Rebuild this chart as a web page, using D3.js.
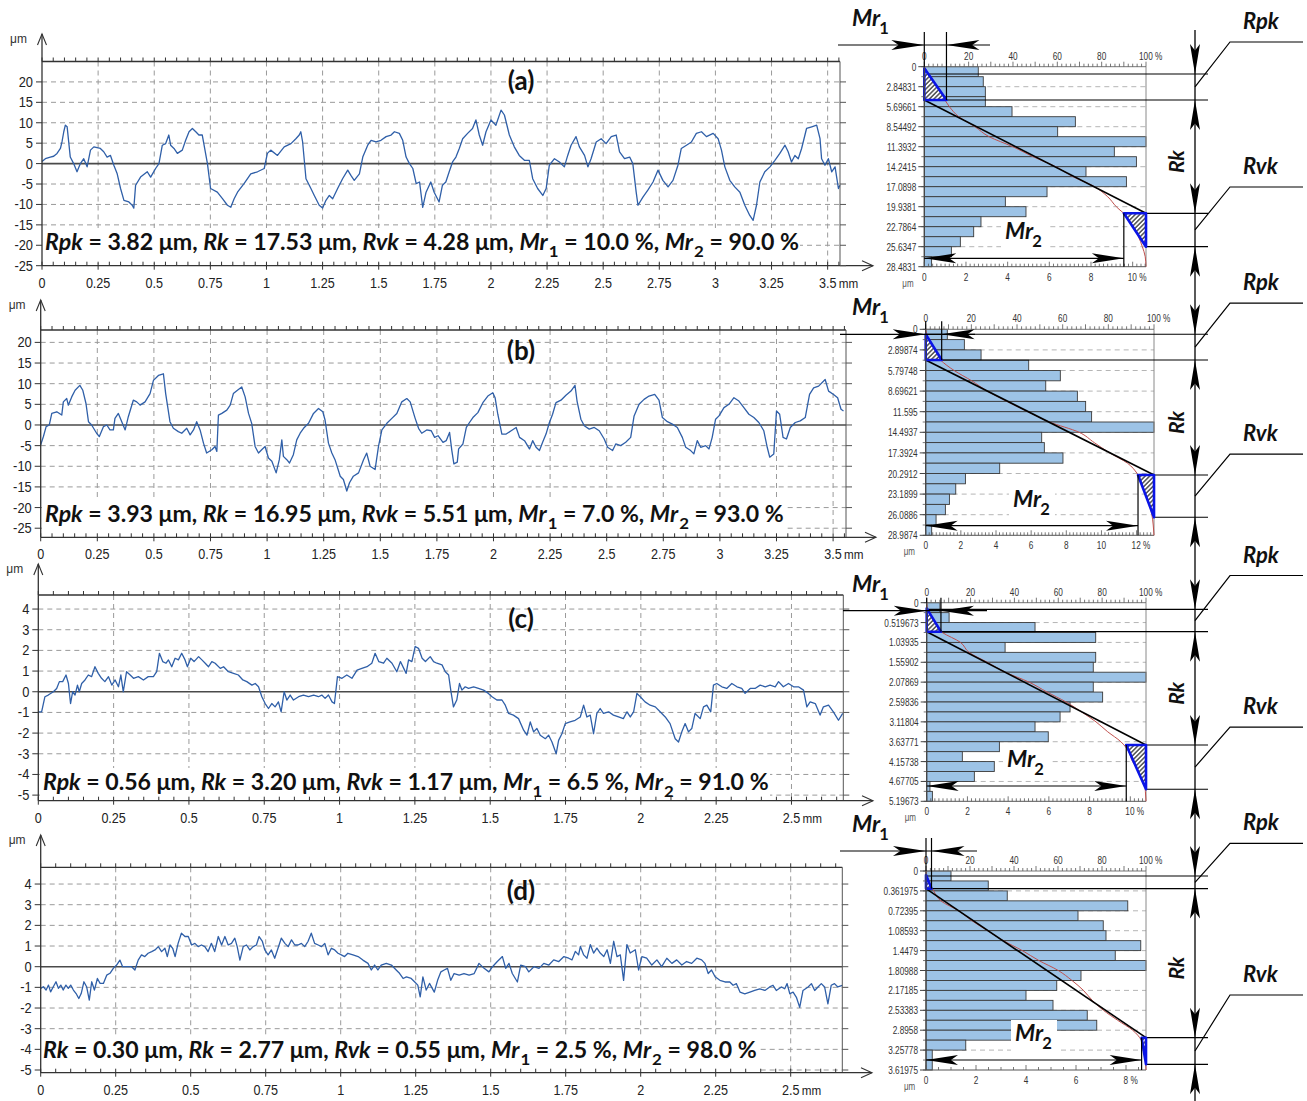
<!DOCTYPE html>
<html><head><meta charset="utf-8">
<script src="https://cdn.jsdelivr.net/npm/d3@7"></script>
<style>
html,body{margin:0;padding:0;background:#fff;}
svg{display:block;}
text{font-family:"Liberation Sans",Arial,sans-serif;white-space:pre;}
</style></head><body>
<svg id="chart" width="1307" height="1101"></svg>
<script>
// ---------- roughness profiles: [position mm, height μm] ----------
const profileA = [[0,0.5],[0.015,1.2],[0.037,1.6],[0.052,1.8],[0.067,2.5],[0.082,3.7],[0.089,5.3],[0.097,7.8],[0.104,9.4],[0.112,9.0],[0.119,5.3],[0.126,1.6],[0.141,0],[0.156,-2.0],[0.171,0],[0.186,1.2],[0.201,-0.8],[0.216,3.3],[0.231,4.1],[0.260,3.7],[0.275,2.9],[0.290,1.6],[0.305,2.0],[0.320,-0.4],[0.335,-2.5],[0.350,-6.1],[0.365,-9.0],[0.387,-9.4],[0.402,-10.2],[0.409,-10.9],[0.417,-5.3],[0.439,-3.3],[0.469,-2.0],[0.484,-3.3],[0.506,-1.2],[0.521,0],[0.536,4.5],[0.551,4.9],[0.565,7.0],[0.573,4.5],[0.588,3.7],[0.603,2.5],[0.625,3.3],[0.640,5.7],[0.655,7.8],[0.670,8.6],[0.685,7.8],[0.699,7.0],[0.714,7.0],[0.737,0],[0.751,-6.1],[0.781,-7.0],[0.804,-8.6],[0.826,-10.2],[0.841,-10.7],[0.856,-8.6],[0.871,-7.0],[0.900,-4.9],[0.930,-2.5],[0.960,-2.0],[0.990,-1.2],[1.004,2.5],[1.019,3.3],[1.049,2.0],[1.079,4.1],[1.109,4.9],[1.131,6.1],[1.146,7.0],[1.153,7.8],[1.161,5.3],[1.176,-3.7],[1.198,-6.1],[1.213,-7.8],[1.235,-10.2],[1.250,-10.9],[1.265,-9.0],[1.280,-7.8],[1.295,-8.6],[1.317,-6.1],[1.339,-3.7],[1.362,-1.6],[1.376,-2.9],[1.391,-4.1],[1.414,-2.5],[1.429,1.6],[1.451,4.5],[1.466,5.7],[1.488,5.3],[1.510,5.7],[1.533,6.6],[1.555,7.0],[1.570,7.8],[1.592,7.4],[1.607,5.7],[1.622,1.6],[1.637,0],[1.652,-1.2],[1.667,-4.9],[1.682,-4.5],[1.696,-10.7],[1.711,-7.0],[1.732,-4.5],[1.747,-7.0],[1.769,-9.4],[1.784,-5.3],[1.799,-4.5],[1.814,-2.0],[1.829,0.4],[1.844,1.6],[1.859,3.7],[1.874,6.1],[1.896,7.4],[1.918,8.6],[1.933,10.7],[1.948,7.0],[1.963,4.5],[1.978,7.8],[2.0,10.7],[2.022,9.4],[2.045,13.1],[2.060,11.9],[2.082,7.0],[2.104,4.1],[2.126,2.0],[2.149,0.8],[2.171,0.8],[2.186,-3.7],[2.208,-6.1],[2.231,-7.8],[2.246,-6.1],[2.260,-0.4],[2.283,1.2],[2.305,0.4],[2.327,-0.8],[2.342,2.0],[2.357,4.5],[2.379,6.6],[2.394,4.1],[2.417,2.0],[2.432,-0.8],[2.446,1.2],[2.469,5.3],[2.491,6.1],[2.513,4.9],[2.536,6.6],[2.558,7.0],[2.573,2.9],[2.595,1.2],[2.618,1.6],[2.632,0],[2.647,-7.0],[2.655,-10.2],[2.677,-8.2],[2.699,-6.5],[2.722,-4.5],[2.744,-1.6],[2.766,-4.1],[2.789,-5.7],[2.811,-4.1],[2.833,-0.4],[2.848,3.7],[2.871,4.5],[2.893,5.3],[2.915,7.4],[2.938,7.8],[2.960,6.6],[2.990,7.4],[3.012,6.1],[3.027,3.3],[3.042,-0.8],[3.064,-4.1],[3.086,-5.7],[3.109,-7.0],[3.131,-10.2],[3.153,-12.7],[3.168,-13.9],[3.183,-10.2],[3.198,-4.5],[3.220,-2.0],[3.243,-0.8],[3.265,0.8],[3.287,2.5],[3.310,4.5],[3.324,2.9],[3.339,0.4],[3.354,2.0],[3.369,1.2],[3.384,3.7],[3.406,8.6],[3.429,9.0],[3.451,9.4],[3.466,6.1],[3.473,1.2],[3.488,-0.4],[3.503,1.2],[3.518,-2.0],[3.533,-0.8],[3.548,-6.1],[3.555,-5.3]];
const profileB = [[0,-4.8],[0.012,-2.8],[0.024,-0.4],[0.038,0],[0.049,2.8],[0.071,3.2],[0.093,2.4],[0.100,5.6],[0.115,6.4],[0.122,4.8],[0.137,6.8],[0.152,8.4],[0.173,9.6],[0.186,8.4],[0.200,5.2],[0.211,0.8],[0.225,0],[0.247,-2.0],[0.259,-2.8],[0.277,-0.4],[0.292,0],[0.306,-1.2],[0.321,-1.2],[0.328,1.6],[0.343,2.8],[0.358,0.8],[0.373,-1.2],[0.387,2.0],[0.409,6.0],[0.424,5.6],[0.439,4.8],[0.461,5.6],[0.483,7.6],[0.498,10.8],[0.520,12.0],[0.542,12.4],[0.552,7.6],[0.571,0.8],[0.586,-0.8],[0.608,-1.6],[0.623,-2.0],[0.645,-0.8],[0.660,-2.4],[0.675,-1.2],[0.689,0.8],[0.704,-1.2],[0.719,-4.4],[0.733,-6.8],[0.756,-6.0],[0.770,-5.2],[0.778,-6.4],[0.785,2.4],[0.800,2.8],[0.822,3.6],[0.837,4.8],[0.851,7.6],[0.869,8.4],[0.888,9.2],[0.903,6.8],[0.918,2.8],[0.932,0.4],[0.947,-5.2],[0.962,-6.8],[0.976,-6.0],[0.991,-5.2],[1.006,-8.0],[1.021,-8.8],[1.040,-11.6],[1.054,-8.4],[1.065,-3.6],[1.072,-7.6],[1.087,-8.4],[1.099,-9.2],[1.116,-7.2],[1.131,-3.6],[1.146,-2.0],[1.161,-0.8],[1.183,0.4],[1.205,2.8],[1.227,4.0],[1.246,3.2],[1.256,1.2],[1.271,-4.4],[1.286,-6.8],[1.300,-8.4],[1.323,-12.4],[1.337,-13.2],[1.352,-16.0],[1.364,-14.0],[1.381,-12.4],[1.404,-11.6],[1.426,-8.4],[1.440,-6.8],[1.455,-10.0],[1.477,-10.8],[1.492,-5.2],[1.507,-1.2],[1.529,0.4],[1.551,1.6],[1.573,2.8],[1.595,5.6],[1.617,6.4],[1.632,5.6],[1.654,1.6],[1.669,-0.8],[1.683,-2.0],[1.705,-1.2],[1.725,-1.4],[1.740,-3.0],[1.755,-2.6],[1.777,-4.2],[1.791,-3.8],[1.806,-1.8],[1.816,-6.2],[1.825,-9.4],[1.840,-9.0],[1.846,-5.8],[1.865,-4.6],[1.880,-0.6],[1.894,0.6],[1.909,1.8],[1.931,3.0],[1.953,5.4],[1.975,7.0],[1.997,7.8],[2.007,6.6],[2.019,2.6],[2.037,-2.2],[2.056,-2.2],[2.078,-1.4],[2.100,-0.6],[2.115,-3.0],[2.137,-3.8],[2.159,-5.8],[2.173,-3.8],[2.188,-5.4],[2.203,-6.2],[2.217,-4.2],[2.232,-2.2],[2.247,0.6],[2.261,2.6],[2.276,5.4],[2.298,6.0],[2.320,7.2],[2.342,8.2],[2.360,9.6],[2.369,5.8],[2.386,1.4],[2.401,-0.2],[2.423,-1.0],[2.445,-0.6],[2.467,-1.4],[2.489,-3.4],[2.504,-5.4],[2.526,-6.2],[2.540,-4.6],[2.562,-5.0],[2.584,-4.2],[2.606,-3.0],[2.621,2.2],[2.643,5.0],[2.665,6.2],[2.687,7.0],[2.712,7.4],[2.731,6.0],[2.746,1.8],[2.768,0.8],[2.790,0.2],[2.812,-0.6],[2.834,-3.0],[2.849,-5.4],[2.871,-6.2],[2.885,-7.0],[2.900,-3.8],[2.915,-5.4],[2.937,-5.0],[2.952,-5.8],[2.966,-3.0],[2.981,1.4],[2.996,2.2],[3.018,4.2],[3.040,5.0],[3.062,6.6],[3.084,5.8],[3.106,4.2],[3.128,2.6],[3.150,1.8],[3.172,0.6],[3.194,-1.4],[3.209,-5.4],[3.220,-7.8],[3.238,-7.0],[3.250,3.4],[3.264,2.6],[3.279,-3.0],[3.294,-3.4],[3.311,-0.6],[3.333,0.6],[3.355,1.0],[3.377,1.8],[3.396,7.4],[3.414,9.0],[3.436,9.4],[3.465,11.0],[3.480,8.2],[3.502,7.4],[3.520,6.6],[3.535,3.8],[3.546,3.4]];
const profileC = [[0,-0.97],[0.011,-0.97],[0.022,-0.24],[0.033,-0.16],[0.050,0],[0.061,0.16],[0.070,0.49],[0.081,0.49],[0.092,0.81],[0.100,0.4],[0.107,-0.57],[0.114,0],[0.122,-0.16],[0.130,0.32],[0.136,0],[0.144,0.4],[0.155,0.57],[0.166,0.81],[0.177,0.73],[0.188,1.21],[0.199,0.89],[0.210,0.65],[0.221,0.49],[0.233,0.73],[0.244,0.32],[0.255,0.57],[0.266,0.24],[0.274,0.81],[0.282,0],[0.293,0.97],[0.305,0.81],[0.316,0.65],[0.332,0.73],[0.349,0.57],[0.365,0.73],[0.382,0.73],[0.393,0.97],[0.402,1.86],[0.413,1.46],[0.424,1.38],[0.432,1.54],[0.443,1.21],[0.454,1.62],[0.465,1.54],[0.476,1.86],[0.487,1.54],[0.495,1.21],[0.506,1.62],[0.517,1.46],[0.532,1.7],[0.543,1.54],[0.554,1.38],[0.565,1.21],[0.576,1.46],[0.587,1.38],[0.604,1.13],[0.615,1.21],[0.631,0.97],[0.648,0.89],[0.664,0.81],[0.679,0.57],[0.692,0.49],[0.709,0.32],[0.720,0.4],[0.731,0.24],[0.742,-0.24],[0.753,-0.57],[0.764,-0.81],[0.775,-0.57],[0.786,-0.73],[0.797,-0.49],[0.806,-0.97],[0.816,0],[0.825,-0.4],[0.836,-0.16],[0.847,-0.4],[0.864,-0.24],[0.880,-0.16],[0.897,-0.24],[0.914,-0.16],[0.930,-0.24],[0.941,-0.16],[0.952,-0.32],[0.963,-0.16],[0.975,-0.49],[0.983,-0.57],[0.993,0.73],[1.008,0.65],[1.024,0.81],[1.041,0.65],[1.058,1.05],[1.074,1.13],[1.091,1.21],[1.107,1.38],[1.118,1.86],[1.130,1.46],[1.146,1.38],[1.157,1.62],[1.174,1.38],[1.190,0.97],[1.202,1.46],[1.213,1.13],[1.221,0.89],[1.229,1.54],[1.240,1.46],[1.251,2.19],[1.262,2.1],[1.274,1.62],[1.285,1.46],[1.301,1.7],[1.312,1.46],[1.323,1.38],[1.340,1.3],[1.351,0.97],[1.362,0.81],[1.369,0.08],[1.378,-0.73],[1.389,-0.4],[1.398,0.4],[1.406,0.08],[1.417,0.24],[1.428,0.16],[1.445,0.24],[1.461,0.16],[1.478,0.08],[1.494,-0.08],[1.506,-0.24],[1.522,-0.4],[1.539,-0.4],[1.550,-0.65],[1.561,-1.05],[1.577,-1.13],[1.594,-1.3],[1.611,-1.86],[1.622,-2.1],[1.633,-1.46],[1.644,-1.94],[1.655,-1.78],[1.666,-2.1],[1.683,-2.27],[1.694,-2.1],[1.705,-2.43],[1.719,-3.0],[1.727,-2.35],[1.738,-2.03],[1.749,-1.54],[1.765,-1.46],[1.782,-1.38],[1.799,-1.22],[1.810,-0.65],[1.821,-1.22],[1.832,-1.13],[1.843,-2.03],[1.854,-1.05],[1.865,-0.81],[1.876,-1.05],[1.893,-0.97],[1.909,-1.13],[1.926,-1.22],[1.942,-1.3],[1.954,-0.97],[1.965,-1.22],[1.976,-0.97],[1.987,-0.08],[1.998,-0.24],[2.014,-0.49],[2.031,-0.65],[2.048,-0.73],[2.064,-0.97],[2.081,-1.22],[2.097,-1.54],[2.114,-2.27],[2.125,-2.43],[2.136,-1.94],[2.147,-1.54],[2.158,-1.94],[2.169,-1.78],[2.180,-1.05],[2.197,-1.3],[2.208,-0.73],[2.219,-0.65],[2.232,-0.97],[2.241,0.32],[2.252,0.4],[2.269,0.24],[2.285,0.16],[2.302,0.4],[2.319,0.24],[2.335,0.16],[2.346,-0.08],[2.363,0.16],[2.379,0.16],[2.396,0.32],[2.413,0.24],[2.429,0.32],[2.446,0.24],[2.457,0.49],[2.473,0.24],[2.490,0.4],[2.507,0.24],[2.523,0.24],[2.540,0.08],[2.551,-0.73],[2.562,-0.49],[2.579,-0.57],[2.595,-1.13],[2.606,-0.73],[2.623,-0.65],[2.639,-0.97],[2.656,-1.38],[2.670,-1.05]];
const profileD = [[0,-1.05],[0.009,-0.97],[0.018,-1.13],[0.026,-0.89],[0.033,-1.22],[0.042,-0.97],[0.051,-0.73],[0.059,-1.05],[0.067,-0.89],[0.075,-1.13],[0.084,-0.89],[0.092,-1.05],[0.100,-0.89],[0.109,-1.13],[0.118,-1.3],[0.127,-1.54],[0.135,-1.3],[0.144,-0.73],[0.153,-0.97],[0.162,-1.62],[0.170,-0.73],[0.179,-1.13],[0.189,-0.57],[0.198,-0.81],[0.209,-0.81],[0.220,-0.41],[0.231,-0.32],[0.242,-0.08],[0.253,0.08],[0.264,0.32],[0.273,0],[0.286,0],[0.303,0],[0.314,-0.16],[0.325,0.32],[0.336,0.57],[0.347,0.49],[0.358,0.65],[0.370,0.73],[0.381,0.81],[0.392,0.97],[0.403,0.73],[0.414,0.89],[0.422,0.49],[0.431,1.05],[0.440,0.89],[0.448,0.49],[0.458,1.13],[0.469,1.62],[0.481,1.46],[0.492,1.46],[0.503,1.05],[0.514,1.13],[0.525,0.97],[0.536,1.05],[0.547,0.97],[0.558,0.73],[0.569,1.13],[0.580,0.73],[0.592,1.46],[0.603,1.05],[0.614,1.46],[0.625,1.05],[0.636,1.13],[0.647,1.38],[0.655,0.97],[0.664,0.32],[0.675,0.97],[0.686,1.05],[0.697,0.81],[0.708,0.97],[0.719,1.05],[0.728,1.46],[0.739,1.22],[0.747,0.81],[0.758,0.57],[0.769,0.81],[0.780,0.41],[0.791,0.89],[0.802,1.38],[0.814,1.13],[0.825,0.97],[0.836,1.3],[0.847,1.05],[0.858,1.05],[0.869,1.13],[0.880,0.97],[0.891,1.22],[0.902,1.62],[0.913,1.13],[0.925,1.05],[0.936,0.97],[0.947,1.13],[0.958,0.57],[0.969,0.89],[0.980,0.81],[0.991,0.65],[1.002,0.57],[1.013,0.49],[1.024,0.65],[1.041,0.57],[1.058,0.49],[1.074,0.32],[1.091,0.16],[1.102,-0.16],[1.113,0.08],[1.124,-0.16],[1.135,0.08],[1.152,0.16],[1.169,0.08],[1.185,-0.16],[1.196,-0.32],[1.208,-0.57],[1.219,-0.49],[1.235,-0.57],[1.246,-0.73],[1.257,-0.89],[1.265,-1.46],[1.274,-0.49],[1.285,-1.13],[1.296,-0.81],[1.312,-1.23],[1.323,-0.66],[1.334,-0.25],[1.345,-0.16],[1.356,-0.08],[1.367,-0.66],[1.378,-0.33],[1.395,-0.41],[1.411,-0.33],[1.428,-0.41],[1.445,-0.33],[1.461,0.16],[1.478,-0.08],[1.494,-0.25],[1.506,0],[1.522,0.25],[1.539,0.49],[1.550,-0.08],[1.561,0.16],[1.572,-0.33],[1.589,-0.74],[1.600,0.08],[1.616,0],[1.627,-0.25],[1.644,0],[1.661,-0.08],[1.677,0.16],[1.694,0.08],[1.710,0.33],[1.727,0.25],[1.744,0.49],[1.760,0.41],[1.771,0.33],[1.782,0.74],[1.793,0.57],[1.799,0.98],[1.810,0.57],[1.821,0.41],[1.832,1.07],[1.843,0.66],[1.854,0.9],[1.865,0.66],[1.877,0.49],[1.888,0.82],[1.899,0.16],[1.910,1.23],[1.921,0.49],[1.932,0.57],[1.943,-0.66],[1.954,1.07],[1.965,0.66],[1.982,0.82],[1.993,-0.16],[2.004,0.49],[2.020,0.41],[2.037,0.08],[2.054,0.33],[2.070,0],[2.087,0.41],[2.104,0.16],[2.120,0.33],[2.137,0.08],[2.153,0.25],[2.170,0.16],[2.187,0.41],[2.203,0.33],[2.214,0.16],[2.225,-0.33],[2.236,-0.16],[2.248,-0.49],[2.264,-0.66],[2.281,-0.74],[2.297,-0.74],[2.308,-0.9],[2.319,-0.82],[2.331,-1.23],[2.347,-1.31],[2.364,-1.23],[2.380,-1.15],[2.397,-1.07],[2.414,-1.15],[2.430,-0.98],[2.441,-0.9],[2.452,-1.15],[2.469,-0.98],[2.480,-1.07],[2.488,-0.82],[2.497,-1.31],[2.508,-1.23],[2.519,-1.48],[2.530,-1.97],[2.541,-1.15],[2.558,-0.98],[2.569,-0.82],[2.580,-1.15],[2.591,-0.98],[2.602,-0.82],[2.613,-0.98],[2.624,-1.8],[2.635,-0.9],[2.646,-0.82],[2.657,-0.98],[2.672,-0.9]];

// evaluation length (mm) and plotted height window (μm) of each profile
const profileSpans = [3.555, 3.557, 2.672, 2.672];
const heightWindows = [[-25, 25], [-27.2, 23], [-5.27, 4.68], [-5.13, 4.81]];
const heightTicksLarge = [20, 15, 10, 5, 0, -5, -10, -15, -20, -25];
const heightTicksSmall = [4, 3, 2, 1, 0, -1, -2, -3, -4, -5];
const posLabelsLong = ["0","0.25","0.5","0.75","1","1.25","1.5","1.75","2","2.25","2.5","2.75","3","3.25","3.5"];
const posLabelsShort = ["0","0.25","0.5","0.75","1","1.25","1.5","1.75","2","2.25","2.5"];
const panelTags = ["(a)", "(b)", "(c)", "(d)"];

// ---------- Abbott-Firestone parameters ----------
const firstParamNames = ["Rpk", "Rpk", "Rpk", "Rk"];
const rpkValues = [3.82, 3.93, 0.56, 0.30];
const rkValues = [17.53, 16.95, 3.20, 2.77];
const rvkValues = [4.28, 5.51, 1.17, 0.55];
const mr1Values = [10.0, 7.0, 6.5, 2.5];
const mr2Values = [90.0, 93.0, 91.0, 98.0];

// amplitude distribution: share of points (%) per depth class, top to bottom
const histA = [2.59,2.83,2.93,2.93,4.21,7.25,6.40,10.64,9.12,10.18,7.76,9.70,5.89,3.89,4.88,2.72,2.37,1.73,1.30,0.35];
const histB = [1.23,2.20,3.15,5.86,7.66,6.83,8.63,9.10,9.44,12.99,6.60,6.75,7.81,4.21,2.26,1.71,1.35,1.12,0.59,0.34];
const histC = [0.65,1.10,5.32,8.30,3.85,8.30,8.18,10.77,8.18,8.64,7.04,6.55,5.32,5.97,3.57,1.75,3.32,2.34,0.16,0.28];
const histD = [1.00,2.49,3.25,8.07,6.08,7.09,7.20,8.59,7.57,8.80,6.20,5.23,4.00,5.08,6.45,6.83,3.98,1.59,0.25,0.25];
const depthLabelsA = ["0","2.84831","5.69661","8.54492","11.3932","14.2415","17.0898","19.9381","22.7864","25.6347","28.4831"];
const depthLabelsB = ["0","2.89874","5.79748","8.69621","11.595","14.4937","17.3924","20.2912","23.1899","26.0886","28.9874"];
const depthLabelsC = ["0","0.519673","1.03935","1.55902","2.07869","2.59836","3.11804","3.63771","4.15738","4.67705","5.19673"];
const depthLabelsD = ["0","0.361975","0.72395","1.08593","1.4479","1.80988","2.17185","2.53383","2.8958","3.25778","3.61975"];
const ratioLabels = ["0","20","40","60","80","100"];
// depth levels (μm): peak line, peak triangle apex, core top, core bottom, valley bottom
const levelsA = [1.04, 0.23, 4.74, 20.88, 25.63];
const levelsB = [0.70, 0.70, 4.32, 20.50, 26.45];
const levelsC = [0.173, 0.147, 0.759, 3.723, 4.882];
const levelsD = [0.091, 0.073, 0.32, 3.032, 3.516];

// ---------- layout ----------
const profileBoxes = [
  {left:42,   right:840,   top:61.5,  bottom:265.7,  tipY:34,  arrowX:873, tagY:90,   statX:45, statW:752, statY:250},
  {left:40.7, right:846,   top:330,   bottom:537.3,  tipY:300, arrowX:876, tagY:360,  statX:45, statW:737, statY:522},
  {left:38.3, right:843.3, top:595,   bottom:800.7,  tipY:564, arrowX:873, tagY:628,  statX:43, statW:724, statY:790},
  {left:40.7, right:842.3, top:867.3, bottom:1072.7, tipY:835, arrowX:872, tagY:900,  statX:43, statW:712, statY:1058}
];
const histBoxes = [
  {left:924.3, right:1146, top:66.7,  bottom:266.7,  minor:0.2, mr1Y:45,    mr1X0:838, mr1X1:990, mr2Y:258.3, mr2X:1005, rpkRise:45, rvkRise:43},
  {left:925.7, right:1154, top:329.3, bottom:535.3,  minor:0.2, mr1Y:334.3, mr1X0:840, mr1X1:975, mr2Y:525.7, mr2X:1013, rpkRise:44, rvkRise:42},
  {left:926.7, right:1146, top:602.7, bottom:801.3,  minor:0.2, mr1Y:610.7, mr1X0:843, mr1X1:987, mr2Y:786,   mr2X:1007, rpkRise:45, rvkRise:40},
  {left:926,   right:1146, top:871,   bottom:1070,   minor:0.5, mr1Y:851,   mr1X0:840, mr1X1:977, mr2Y:1060,  mr2X:1015, rpkRise:39, rvkRise:56}
];
const SCALE_X = 1195, LINE_END = 1208;

const svg = d3.select("#chart");
const defs = svg.append("defs");
const pat = defs.append("pattern").attr("id", "hatch").attr("patternUnits", "userSpaceOnUse")
  .attr("width", 3.2).attr("height", 3.2).attr("patternTransform", "rotate(45)");
pat.append("rect").attr("width", 3.2).attr("height", 3.2).attr("fill", "#fff");
pat.append("line").attr("x1", 0.8).attr("y1", 0).attr("x2", 0.8).attr("y2", 3.2).attr("stroke", "#111").attr("stroke-width", 1.1);

svg.append("rect").attr("width", 1307).attr("height", 1101).attr("fill", "#fff");

function sText(g, x, y, str, o = {}) {
  const t = g.append("text")
    .attr("transform", `translate(${x},${y}) scale(${o.sx || 1},1)`)
    .attr("text-anchor", o.anchor || "start")
    .attr("font-size", o.size || 12)
    .attr("fill", o.color || "#222")
    .text(str);
  if (o.family) t.style("font-family", o.family);
  if (o.weight) t.attr("font-weight", o.weight);
  if (o.style) t.attr("font-style", o.style);
  return t;
}

function line(g, x1, y1, x2, y2, color = "#000", w = 1, dash = null) {
  const l = g.append("line").attr("x1", x1).attr("y1", y1).attr("x2", x2).attr("y2", y2)
    .attr("stroke", color).attr("stroke-width", w);
  if (dash) l.attr("stroke-dasharray", dash);
  return l;
}

// filled "stealth" arrow head whose tip sits at (tx, ty)
function arrowHead(g, tx, ty, dir, len = 30, hw = 5) {
  const [dx, dy] = {right:[1,0], left:[-1,0], down:[0,1], up:[0,-1]}[dir];
  const bx = tx - dx * len, by = ty - dy * len, nx = -dy, ny = dx;
  const kx = tx - dx * len * 0.78, ky = ty - dy * len * 0.78;
  g.append("path")
    .attr("d", `M${tx},${ty}L${bx + nx * hw},${by + ny * hw}L${kx},${ky}L${bx - nx * hw},${by - ny * hw}Z`)
    .attr("fill", "#000");
}

// ---------- profile panels ----------
const profiles = [profileA, profileB, profileC, profileD];

function drawProfile(i) {
  const B = profileBoxes[i], g = svg.append("g");
  const span = profileSpans[i];
  const x = d3.scaleLinear().domain([0, span]).range([B.left, B.right]);
  const y = d3.scaleLinear().domain(heightWindows[i]).range([B.bottom, B.top]);
  const hTicks = i < 2 ? heightTicksLarge : heightTicksSmall;
  const pLabels = i < 2 ? posLabelsLong : posLabelsShort;
  const majors = pLabels.map(Number);
  const minors = d3.range(0, Math.floor(span / 0.05 + 1e-6) + 1).map(k => k * 0.05);

  // dashed grid
  majors.filter(v => v > 0).forEach(v => line(g, x(v), B.top, x(v), B.bottom, "#9a9a9a", 1, "5,4"));
  hTicks.filter(v => v !== 0 && y(v) < B.bottom - 1).forEach(v => line(g, B.left, y(v), B.right, y(v), "#9a9a9a", 1, "5,4"));

  // parameter summary (on white ground)
  const stat = g.append("g");
  const box = stat.append("rect").attr("fill", "#fff");
  const t = stat.append("text").attr("font-size", 22).attr("font-weight", 700)
    .style("font-family", "Lato, 'Open Sans', sans-serif").attr("fill", "#111");
  const f2 = v => v.toFixed(2), f1 = v => v.toFixed(1);
  const segs = [
    {s:firstParamNames[i], it:1}, {s:` = ${f2(rpkValues[i])} μm, `},
    {s:"Rk", it:1}, {s:` = ${f2(rkValues[i])} μm, `},
    {s:"Rvk", it:1}, {s:` = ${f2(rvkValues[i])} μm, `},
    {s:"Mr", it:1}, {s:"1", sub:1}, {s:` = ${f1(mr1Values[i])} %, `},
    {s:"Mr", it:1}, {s:"2", sub:1}, {s:` = ${f1(mr2Values[i])} %`}
  ];
  let shifted = false;
  segs.forEach(sg => {
    const ts = t.append("tspan").text(sg.s);
    if (sg.it) ts.attr("font-style", "italic");
    if (sg.sub) { ts.attr("font-size", 16).attr("dy", 7).attr("dx", 1); shifted = true; }
    else if (shifted) { ts.attr("dy", -7); shifted = false; }
  });
  const natural = t.node().getComputedTextLength();
  t.attr("transform", `translate(${B.statX},${B.statY}) scale(${B.statW / natural},1)`);
  box.attr("x", B.statX - 3).attr("y", B.statY - 22).attr("width", B.statW + 6).attr("height", 35);

  // mean line
  line(g, B.left, y(0), B.right, y(0), "#4a4a4a", 1.6);

  // profile
  g.append("path").datum(profiles[i])
    .attr("d", d3.line().x(d => x(d[0])).y(d => y(d[1])))
    .attr("fill", "none").attr("stroke", "#2f5fa8").attr("stroke-width", 1.3).attr("stroke-linejoin", "round");

  // frame
  line(g, B.left, B.top, B.right, B.top, "#333", 1.3);
  line(g, B.right, B.top, B.right, B.bottom, "#555", 1);
  line(g, B.left, B.bottom, B.arrowX, B.bottom, "#333", 1.3);
  line(g, B.left, B.bottom, B.left, B.tipY, "#333", 1.3);
  g.append("path").attr("d", `M${B.left - 4.5},${B.tipY + 11}L${B.left},${B.tipY}L${B.left + 4.5},${B.tipY + 11}`)
    .attr("fill", "none").attr("stroke", "#333").attr("stroke-width", 1.1);
  g.append("path").attr("d", `M${B.arrowX - 11},${B.bottom - 5}L${B.arrowX},${B.bottom}L${B.arrowX - 11},${B.bottom + 5}`)
    .attr("fill", "none").attr("stroke", "#333").attr("stroke-width", 1.1);
  sText(g, B.left - 32, B.tipY + 9, "μm", {size: 12, color: "#333"});

  // ticks
  minors.forEach(v => {
    line(g, x(v), B.top, x(v), B.top - 4, "#333", 1);
    line(g, x(v), B.bottom, x(v), B.bottom - 4, "#333", 1);
  });
  majors.forEach(v => line(g, x(v), B.bottom, x(v), B.bottom + 4, "#333", 1));
  hTicks.forEach(v => {
    line(g, B.left - 6, y(v), B.left, y(v), "#333", 1);
    line(g, B.right, y(v), B.right + 6, y(v), "#555", 1);
    sText(g, B.left - 9, y(v) + 5, String(v), {size: 14, anchor: "end", sx: 0.92});
  });
  pLabels.forEach((lab, k) => {
    sText(g, x(majors[k]), B.bottom + 22, lab, {size: 14, anchor: "middle", sx: 0.9});
  });
  sText(g, x(majors[majors.length - 1]) + 11, B.bottom + 22, "mm", {size: 13, sx: 0.9});

  // panel tag
  sText(g, 521, B.tagY, panelTags[i], {size: 26, anchor: "middle", weight: 700, family: "Lato, sans-serif", color: "#111"});
}

// ---------- material ratio panels ----------
const hists = [histA, histB, histC, histD];
const depthLabelSets = [depthLabelsA, depthLabelsB, depthLabelsC, depthLabelsD];
const levelSets = [levelsA, levelsB, levelsC, levelsD];

function italicLabel(g, x, y, main, sub, size = 23) {
  const t = g.append("text").attr("x", x).attr("y", y).attr("font-size", size).attr("font-weight", 700)
    .style("font-family", "Lato, sans-serif").attr("fill", "#111");
  t.append("tspan").attr("font-style", "italic").text(main);
  if (sub) t.append("tspan").attr("font-size", size * 0.72).attr("dy", 8).attr("dx", -1).text(sub);
  return t;
}

function drawHist(i) {
  const H = histBoxes[i], g = svg.append("g");
  const bars = hists[i], labels = depthLabelSets[i], lv = levelSets[i];
  const depthMax = +labels[labels.length - 1];
  const pct = d3.scaleLinear().domain([0, 100]).range([H.left, H.right]);
  const freq = d3.scaleLinear().domain([0, d3.max(bars)]).range([H.left, H.right]);
  const dep = d3.scaleLinear().domain([0, depthMax]).range([H.top, H.bottom]);
  const bin = depthMax / bars.length;

  // dashed grid at labelled depths
  labels.slice(1, -1).forEach(l => line(g, H.left, dep(+l), H.right, dep(+l), "#b5b5b5", 1, "5,4"));

  // distribution bars
  g.selectAll("rect.bar").data(bars).join("rect").attr("class", "bar")
    .attr("x", H.left).attr("y", (d, k) => dep(k * bin))
    .attr("width", d => freq(d) - H.left).attr("height", dep(bin) - dep(0))
    .attr("fill", "#9dc3e6").attr("stroke", "#3a3a3a").attr("stroke-width", 0.9);

  // frame
  line(g, H.right, H.top, H.right, H.bottom, "#8a8a8a", 1);
  line(g, H.left, H.top, H.right, H.top, "#777", 1);
  line(g, H.left, H.bottom, H.right, H.bottom, "#555", 1);

  // bearing (Abbott-Firestone) curve from the cumulative distribution
  const total = d3.sum(bars);
  const cum = [[0, 0]].concat(Array.from(d3.cumsum(bars), (c, k) => [c / total * 100, (k + 1) * bin]));
  g.append("path").datum(cum)
    .attr("d", d3.line().x(d => pct(d[0])).y(d => dep(d[1])).curve(d3.curveMonotoneY))
    .attr("fill", "none").attr("stroke", "#c0504d").attr("stroke-width", 1);

  const yPk = dep(lv[0]), yApex = dep(lv[1]), yCt = dep(lv[2]), yCb = dep(lv[3]), yVb = dep(lv[4]);
  const xMr1 = pct(mr1Values[i]), xMr2 = pct(mr2Values[i]);

  // equivalent straight line of the core
  line(g, H.left, yCt, H.right, yCb, "#000", 1.6);

  // level lines
  line(g, H.left, yPk, LINE_END, yPk, "#000", 1.2);
  line(g, H.left, yCt, LINE_END, yCt, "#000", 1.2);
  line(g, H.right, yCb, LINE_END, yCb, "#000", 1.2);
  line(g, H.right, yVb, LINE_END, yVb, "#000", 1.2);

  // peak and valley triangles
  g.append("path").attr("d", `M${H.left},${yApex}L${H.left},${yCt}L${xMr1},${yCt}Z`)
    .attr("fill", "url(#hatch)").attr("stroke", "#0a14e6").attr("stroke-width", 2.6).attr("stroke-linejoin", "round");
  g.append("path").attr("d", `M${xMr2},${yCb}L${H.right},${yCb}L${H.right},${yVb}Z`)
    .attr("fill", "url(#hatch)").attr("stroke", "#0a14e6").attr("stroke-width", 2.6).attr("stroke-linejoin", "round");

  // axes: left depth axis, top ratio axis, bottom distribution axis
  line(g, H.left, H.top, H.left, H.bottom, "#444", 1.2);
  d3.range(0, bars.length + 1).forEach(k => line(g, H.left - 3, dep(k * bin), H.left, dep(k * bin), "#555", 0.8));
  labels.forEach(l => {
    line(g, H.left - 6, dep(+l), H.left, dep(+l), "#444", 1);
    sText(g, H.left - 8, dep(+l) + 4, l, {size: 11, anchor: "end", sx: 0.75, color: "#333"});
  });
  d3.range(0, 51).forEach(k => {
    const v = k * 2;
    line(g, pct(v), H.top, pct(v), H.top - (v % 10 === 0 ? 5 : 3), "#555", 0.8);
  });
  ratioLabels.forEach(l => {
    const v = +l;
    if (v === 100) sText(g, pct(v) - 7, H.top - 7, "100 %", {size: 11, sx: 0.75, color: "#333"});
    else sText(g, pct(v), H.top - 7, l, {size: 11, anchor: "middle", sx: 0.75, color: "#333"});
  });
  const fMax = d3.max(bars);
  d3.range(0, Math.floor(fMax / H.minor + 1e-6) + 1).forEach(k => {
    const v = k * H.minor, major = Math.abs(v / 2 - Math.round(v / 2)) < 1e-6;
    line(g, freq(v), H.bottom, freq(v), H.bottom - (major ? 5 : 3), "#555", 0.8);
  });
  const fTicks = d3.range(0, fMax, 2);
  fTicks.forEach((v, k) => {
    if (k === fTicks.length - 1) sText(g, freq(v) - (v >= 10 ? 5 : 2.5), H.bottom + 14, `${v} %`, {size: 11, sx: 0.75, color: "#333"});
    else sText(g, freq(v), H.bottom + 14, String(v), {size: 11, anchor: "middle", sx: 0.75, color: "#333"});
  });
  sText(g, H.left - 22, H.bottom + 20, "μm", {size: 10, sx: 0.8, color: "#555"});

  // Mr1 dimension
  line(g, H.left, H.mr1Y - 13, H.left, H.top, "#000", 1.2);
  line(g, xMr1, H.mr1Y - 13, xMr1, yCt, "#000", 1.2);
  line(g, H.mr1X0, H.mr1Y, H.mr1X1, H.mr1Y, "#000", 1.2);
  arrowHead(g, H.left, H.mr1Y, "right", 33, 5);
  arrowHead(g, xMr1, H.mr1Y, "left", 33, 5);
  italicLabel(g, 852, H.mr1Y - 19, "Mr", "1");

  // Mr2 dimension
  line(g, xMr2, yCb, xMr2, H.bottom, "#000", 1.2);
  line(g, H.left, H.mr2Y, xMr2, H.mr2Y, "#000", 1.2);
  arrowHead(g, H.left, H.mr2Y, "left", 32, 5);
  arrowHead(g, xMr2, H.mr2Y, "right", 32, 5);
  g.append("rect").attr("x", H.mr2X - 4).attr("y", H.mr2Y - 40).attr("width", 46).attr("height", 33).attr("fill", "#fff");
  italicLabel(g, H.mr2X, H.mr2Y - 19, "Mr", "2");

  // height dimension arrows on the common vertical
  arrowHead(g, SCALE_X, yPk, "down", 30, 5);
  arrowHead(g, SCALE_X, yCt, "up", 30, 5);
  arrowHead(g, SCALE_X, yCb, "down", 30, 5);
  arrowHead(g, SCALE_X, yVb, "up", 30, 5);

  // leaders and names
  const midPk = (yPk + yCt) / 2, midVk = (yCb + yVb) / 2;
  const ePk = midPk - H.rpkRise, eVk = midVk - H.rvkRise;
  g.append("path").attr("d", `M${SCALE_X},${midPk}L1230,${ePk}L1303,${ePk}`).attr("fill", "none").attr("stroke", "#000").attr("stroke-width", 1.2);
  g.append("path").attr("d", `M${SCALE_X},${midVk}L1230,${eVk}L1303,${eVk}`).attr("fill", "none").attr("stroke", "#000").attr("stroke-width", 1.2);
  italicLabel(g, 1243, ePk - 13, "Rpk", null, 22);
  italicLabel(g, 1243, eVk - 13, "Rvk", null, 22);
  const rkMid = (yCt + yCb) / 2 + 5;
  g.append("text").attr("transform", `translate(1184,${rkMid}) rotate(-90)`).attr("text-anchor", "middle")
    .attr("font-size", 21).attr("font-weight", 700).attr("font-style", "italic")
    .style("font-family", "Lato, sans-serif").attr("fill", "#111").text("Rk");
}

[0, 1, 2, 3].forEach(drawProfile);
line(svg, SCALE_X, 30, SCALE_X, 1101, "#000", 1.3);
[0, 1, 2, 3].forEach(drawHist);
</script>
</body></html>
